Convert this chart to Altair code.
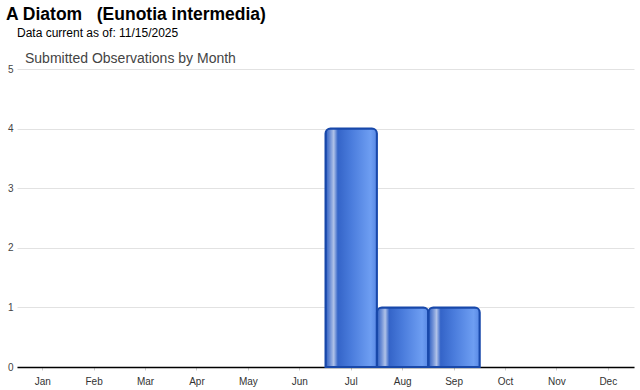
import altair as alt
import pandas as pd

months = ["Jan", "Feb", "Mar", "Apr", "May", "Jun", "Jul", "Aug", "Sep", "Oct", "Nov", "Dec"]
counts = [0, 0, 0, 0, 0, 0, 4, 1, 1, 0, 0, 0]
y_ticks = [0, 1, 2, 3, 4, 5]

title_text = "A Diatom\u00a0\u00a0\u00a0(Eunotia intermedia)"
subtitle_text = "Data current as of: 11/15/2025"
chart_label = "Submitted Observations by Month"

df = pd.DataFrame({"month": months, "count": counts})

FONT = "Liberation Sans"

grad = alt.LinearGradient(
    gradient="linear",
    x1=0, y1=0, x2=1, y2=0,
    stops=[
        alt.GradientStop(offset=0.0, color="#2a5cc0"),
        alt.GradientStop(offset=0.09, color="#6f90d6"),
        alt.GradientStop(offset=0.16, color="#b0c2e8"),
        alt.GradientStop(offset=0.24, color="#3464c8"),
        alt.GradientStop(offset=0.5, color="#4a7cdc"),
        alt.GradientStop(offset=0.88, color="#6e9ef2"),
        alt.GradientStop(offset=1.0, color="#5888e4"),
    ],
)

x_enc = alt.X(
    "month:N",
    sort=months,
    scale=alt.Scale(domain=months, paddingInner=0, paddingOuter=0),
    axis=alt.Axis(
        title=None, labelAngle=0, labelFont=FONT, labelFontSize=10,
        labelColor="#333333", domainColor="#000000", domainWidth=1.5,
        tickSize=3, tickColor="#cccccc", labelPadding=6,
    ),
)
y_enc = alt.Y(
    "count:Q",
    scale=alt.Scale(domain=[0, 5], nice=False),
    axis=alt.Axis(
        title=None, values=y_ticks, format="d", labelFont=FONT, labelFontSize=10,
        labelColor="#444444", gridColor="#e2e2e2", domain=False, ticks=False,
        labelPadding=4,
    ),
)

bars = alt.Chart(df).transform_filter(alt.datum.count > 0).mark_bar(
    color=grad, stroke="#1848aa", strokeWidth=2,
    cornerRadius=5, cornerRadiusBottomLeft=0, cornerRadiusBottomRight=0,
).encode(x=x_enc, y=y_enc)

hdr = pd.DataFrame({"t": [title_text]})
title_mark = alt.Chart(hdr).mark_text(
    align="left", baseline="alphabetic", font=FONT, fontSize=17.5,
    fontWeight="bold", color="#000000",
).encode(text="t:N", x=alt.value(-11), y=alt.value(-49))

sub = pd.DataFrame({"t": [subtitle_text]})
sub_mark = alt.Chart(sub).mark_text(
    align="left", baseline="alphabetic", font=FONT, fontSize=12, color="#000000",
).encode(text="t:N", x=alt.value(0), y=alt.value(-32))

lab = pd.DataFrame({"t": [chart_label]})
lab_mark = alt.Chart(lab).mark_text(
    align="left", baseline="alphabetic", font=FONT, fontSize=14, color="#444444",
).encode(text="t:N", x=alt.value(8), y=alt.value(-6))

chart = alt.layer(bars, title_mark, sub_mark, lab_mark).properties(
    width=617, height=298,
    background="white",
    autosize=alt.AutoSizeParams(type="none"),
    padding={"left": 17, "top": 69, "right": 6, "bottom": 23},
).configure_view(stroke=None)

chart.save("out.html", embed_options={"renderer": "svg", "actions": False})
